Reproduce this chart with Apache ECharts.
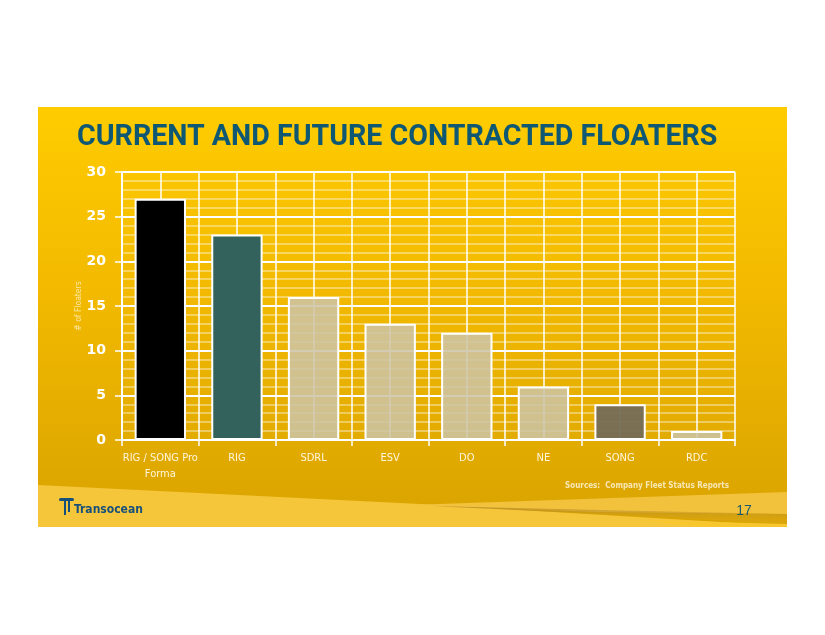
<!DOCTYPE html>
<html>
<head>
<meta charset="utf-8">
<script src="https://cdn.jsdelivr.net/npm/echarts@6/dist/echarts.min.js"></script>
<style>
html,body{margin:0;padding:0;background:#fff;}
#chart{width:825px;height:635px;}
</style>
</head>
<body>
<div id="chart"></div>
<script>
const categories = ['RIG / SONG Pro\nForma', 'RIG', 'SDRL', 'ESV', 'DO', 'NE', 'SONG', 'RDC'];
const floaters = [27, 23, 16, 13, 12, 6, 4, 1];
const barColors = ['#000000', '#32625b', 'rgba(204,196,166,0.86)', 'rgba(204,196,166,0.86)', 'rgba(204,196,166,0.86)', 'rgba(204,196,166,0.86)', 'rgba(116,108,86,0.95)', 'rgba(204,196,166,0.86)'];
const yTicks = [0, 5, 10, 15, 20, 25, 30];

const chart = echarts.init(document.getElementById('chart'));
const labelFont = "'DejaVu Sans Condensed', 'DejaVu Sans', sans-serif";

const option = {
  backgroundColor: '#ffffff',
  animation: false,
  title: {
    text: 'CURRENT AND FUTURE CONTRACTED FLOATERS',
    left: 77,
    top: 123,
    padding: 0,
    textStyle: {
      color: '#0e5874',
      fontSize: 28.6,
      fontWeight: 'bold',
      fontFamily: "Roboto, 'DejaVu Sans Condensed', sans-serif"
    }
  },
  graphic: [
    {
      type: 'rect', z: -20, silent: true,
      shape: { x: 38, y: 107, width: 749, height: 420 },
      style: {
        fill: new echarts.graphic.LinearGradient(0, 0, 0, 1, [
          { offset: 0, color: '#ffcc00' },
          { offset: 0.45, color: '#f2b900' },
          { offset: 1, color: '#d9a300' }
        ])
      }
    },
    {
      type: 'polygon', z: -19, silent: true,
      shape: { points: [[38, 485], [420, 504], [787, 526], [787, 527], [38, 527]] },
      style: { fill: '#f6c63a' }
    },
    {
      type: 'polygon', z: -19, silent: true,
      shape: { points: [[410, 505], [787, 492], [787, 514], [600, 512]] },
      style: { fill: '#f3c23c' }
    },
    {
      type: 'polygon', z: -18, silent: true,
      shape: { points: [[430, 506], [600, 510], [787, 514], [787, 524], [640, 516]] },
      style: {
        fill: new echarts.graphic.LinearGradient(0, 0, 0, 1, [
          { offset: 0, color: 'rgba(170,130,40,0.7)' },
          { offset: 1, color: 'rgba(230,180,40,0.2)' }
        ])
      }
    },
    {
      type: 'polygon', z: -18, silent: true,
      shape: { points: [[640, 520], [787, 524], [787, 527], [700, 527]] },
      style: { fill: '#f8c72e' }
    },
    {
      type: 'text', z: 10, silent: true,
      style: {
        x: 729, y: 486, text: 'Sources:  Company Fleet Status Reports',
        fill: '#f7e7b5', font: "bold 8px 'DejaVu Sans Condensed', sans-serif",
        textAlign: 'right', textVerticalAlign: 'middle'
      }
    },
    {
      type: 'text', z: 10, silent: true,
      style: {
        x: 744, y: 511, text: '17',
        fill: '#1b5a6c', font: "14px 'Liberation Sans', sans-serif",
        textAlign: 'center', textVerticalAlign: 'middle'
      }
    },
    {
      type: 'text', z: 10, silent: true,
      style: {
        x: 74, y: 510, text: 'Transocean',
        fill: '#17507a', font: "bold 12px 'Liberation Sans Narrow', 'DejaVu Sans Condensed', sans-serif",
        textAlign: 'left', textVerticalAlign: 'middle'
      }
    },
    {
      type: 'rect', z: 10, silent: true,
      shape: { x: 59, y: 498, width: 15, height: 3, r: 1.5 },
      style: { fill: '#17507a' }
    },
    {
      type: 'rect', z: 10, silent: true,
      shape: { x: 64, y: 499, width: 2, height: 16 },
      style: { fill: '#17507a' }
    },
    {
      type: 'rect', z: 10, silent: true,
      shape: { x: 68, y: 499, width: 2, height: 13 },
      style: { fill: '#17507a' }
    }
  ],
  grid: { left: 122, right: 90, top: 172, bottom: 195, containLabel: false },
  xAxis: [
    {
      type: 'category',
      data: categories,
      boundaryGap: true,
      axisLine: { show: true, lineStyle: { color: '#ffffff', width: 2 } },
      axisTick: { show: true, length: 6, lineStyle: { color: '#ffffff', width: 1.5 } },
      axisLabel: {
        color: '#fff6dc', fontSize: 11, fontFamily: labelFont,
        margin: 10, lineHeight: 16, interval: 0
      },
      splitLine: { show: false }
    },
    {
      type: 'value',
      min: 0, max: 8, interval: 0.5,
      position: 'bottom',
      axisLine: { show: false },
      axisTick: { show: false },
      axisLabel: { show: false },
      splitLine: { show: true, lineStyle: { color: '#ffffff', width: 1.5 } }
    }
  ],
  yAxis: {
    type: 'value',
    min: 0, max: 30, interval: 5,
    name: '# of Floaters',
    nameLocation: 'middle',
    nameGap: 39,
    nameRotate: 90,
    nameMoveOverlap: false,
    nameTextStyle: { color: 'rgba(255,245,210,0.8)', fontSize: 8.5, fontFamily: labelFont },
    axisLine: { show: true, lineStyle: { color: '#ffffff', width: 2 } },
    axisTick: { show: true, length: 7, lineStyle: { color: '#ffffff', width: 1.5 } },
    axisLabel: {
      color: '#ffffff', fontSize: 14, fontWeight: 'bold', margin: 16,
      fontFamily: "'DejaVu Sans', sans-serif",
      formatter: function (v) { return yTicks.indexOf(v) >= 0 ? String(v) : ''; }
    },
    splitLine: { show: true, lineStyle: { color: '#ffffff', width: 2 } },
    minorTick: { show: false, splitNumber: 5 },
    minorSplitLine: { show: true, lineStyle: { color: 'rgba(255,255,255,0.5)', width: 1.5 } }
  },
  series: [{
    type: 'bar',
    xAxisIndex: 0,
    barWidth: '67%',
    data: floaters.map(function (v, i) {
      return { value: v, itemStyle: { color: barColors[i] } };
    }),
    itemStyle: { borderColor: '#ffffff', borderWidth: 2 }
  }]
};
chart.setOption(option);
</script>
</body>
</html>
